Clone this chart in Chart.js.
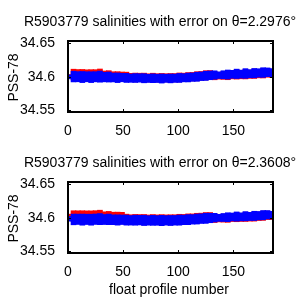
<!DOCTYPE html>
<html>
<head>
<meta charset="utf-8">
<script src="https://cdn.jsdelivr.net/npm/chart.js@4"></script>
<style>
  html, body { margin: 0; padding: 0; background: #fff; }
  .box { position: absolute; left: 0; width: 300px; height: 150px; }
</style>
</head>
<body>
<div class="box" style="top:0"><canvas id="top" width="300" height="150"></canvas></div>
<div class="box" style="top:150px"><canvas id="bottom" width="300" height="150"></canvas></div>
<script>
// profile numbers (every 4th profile)
const profiles = [1, 5, 9, 13, 17, 21, 25, 29, 33, 37, 41, 45, 49, 53, 57, 61, 65, 69, 73, 77, 81, 85, 89, 93,
  97, 101, 105, 109, 113, 117, 121, 125, 129, 133, 137, 141, 145, 149, 153, 157, 161, 165, 169, 173, 177, 181, 185];

const xTicks = [0, 50, 100, 150];
const yTicks = [34.55, 34.6, 34.65];

// theta = 2.2976
const blueTop = [34.6000, 34.6004, 34.6002, 34.5997, 34.6001, 34.5995, 34.6001, 34.6003, 34.5996, 34.5997,
  34.5990, 34.5986, 34.5989, 34.5984, 34.5980, 34.5982, 34.5983, 34.5979, 34.5977, 34.5979, 34.5977, 34.5975,
  34.5978, 34.5976, 34.5979, 34.5983, 34.5986, 34.5990, 34.5995, 34.6001, 34.6008, 34.6015, 34.6022, 34.6027,
  34.6025, 34.6031, 34.6034, 34.6038, 34.6045, 34.6041, 34.6050, 34.6047, 34.6055, 34.6058, 34.6064, 34.6068, 34.6063];
const blueTopErr = [0.0030, 0.0080, 0.0076, 0.0083, 0.0075, 0.0081, 0.0076, 0.0083, 0.0071, 0.0075,
  0.0066, 0.0072, 0.0063, 0.0068, 0.0062, 0.0066, 0.0063, 0.0068, 0.0061, 0.0066, 0.0062, 0.0068,
  0.0061, 0.0066, 0.0062, 0.0067, 0.0061, 0.0066, 0.0063, 0.0068, 0.0064, 0.0069, 0.0065, 0.0063,
  0.0050, 0.0060, 0.0068, 0.0059, 0.0070, 0.0060, 0.0072, 0.0061, 0.0070, 0.0063, 0.0072, 0.0065, 0.0060];
const redTop = [34.6004, 34.6034, 34.6033, 34.6027, 34.6030, 34.6026, 34.6031, 34.6034, 34.6016, 34.6017,
  34.6010, 34.6005, 34.6009, 34.6002, 34.5990, 34.5990, 34.5991, 34.5987, 34.5985, 34.5988, 34.5985, 34.5983,
  34.5986, 34.5984, 34.5987, 34.5991, 34.5994, 34.5998, 34.6003, 34.6009, 34.6016, 34.6023, 34.6029, 34.6019,
  34.6016, 34.6022, 34.6025, 34.6029, 34.6036, 34.6031, 34.6041, 34.6038, 34.6046, 34.6048, 34.6055, 34.6059, 34.6054];

// theta = 2.3608
const blueBot = [34.5985, 34.5976, 34.5978, 34.5973, 34.5977, 34.5972, 34.5979, 34.5981, 34.5975, 34.5977,
  34.5971, 34.5968, 34.5971, 34.5966, 34.5963, 34.5965, 34.5966, 34.5962, 34.5961, 34.5963, 34.5961, 34.5960,
  34.5962, 34.5960, 34.5963, 34.5966, 34.5969, 34.5973, 34.5977, 34.5982, 34.5988, 34.5993, 34.5998, 34.6002,
  34.6000, 34.6005, 34.6009, 34.6013, 34.6019, 34.6015, 34.6024, 34.6021, 34.6029, 34.6032, 34.6040, 34.6046, 34.6040];
const blueBotErr = [0.0035, 0.0080, 0.0077, 0.0083, 0.0077, 0.0082, 0.0078, 0.0083, 0.0075, 0.0079,
  0.0073, 0.0077, 0.0071, 0.0075, 0.0071, 0.0075, 0.0072, 0.0077, 0.0071, 0.0075, 0.0072, 0.0077,
  0.0071, 0.0075, 0.0072, 0.0076, 0.0071, 0.0075, 0.0071, 0.0075, 0.0072, 0.0076, 0.0071, 0.0065,
  0.0053, 0.0060, 0.0067, 0.0059, 0.0069, 0.0060, 0.0069, 0.0061, 0.0069, 0.0063, 0.0069, 0.0063, 0.0057];
const redBot = [34.6020, 34.6026, 34.6028, 34.6023, 34.6027, 34.6022, 34.6029, 34.6031, 34.6015, 34.6017,
  34.6011, 34.6008, 34.6011, 34.5980, 34.5975, 34.5976, 34.5977, 34.5973, 34.5972, 34.5974, 34.5972, 34.5971,
  34.5973, 34.5971, 34.5974, 34.5977, 34.5980, 34.5984, 34.5988, 34.5993, 34.5998, 34.6003, 34.6008, 34.5995,
  34.5992, 34.5996, 34.6000, 34.6004, 34.6011, 34.6006, 34.6015, 34.6012, 34.6020, 34.6023, 34.6031, 34.6037, 34.6031];

const FONT = '"Liberation Sans", Arial, sans-serif';

// box, inward ticks and the texts matlab puts around the axes
const frame = {
  id: 'frame',
  afterDraw(chart, args, opts) {
    const { ctx, chartArea: a, scales } = chart;
    ctx.save();
    ctx.strokeStyle = '#000';
    ctx.lineWidth = 1;
    ctx.beginPath();
    scales.x.ticks.forEach(t => {
      const px = Math.round(scales.x.getPixelForValue(t.value)) + 0.5;
      ctx.moveTo(px, a.bottom); ctx.lineTo(px, a.bottom - 3);
      ctx.moveTo(px, a.top); ctx.lineTo(px, a.top + 3);
    });
    scales.y.ticks.forEach(t => {
      const py = Math.round(scales.y.getPixelForValue(t.value)) + 0.5;
      ctx.moveTo(a.left, py); ctx.lineTo(a.left + 3, py);
      ctx.moveTo(a.right, py); ctx.lineTo(a.right - 3, py);
    });
    ctx.stroke();
    ctx.lineWidth = 2;
    ctx.strokeRect(a.left, a.top, a.right - a.left, a.bottom - a.top);

    ctx.fillStyle = '#000';
    ctx.textAlign = 'center';
    ctx.textBaseline = 'middle';
    ctx.font = '14px ' + FONT;
    ctx.fillText(opts.title, 160, opts.titleY);
    if (opts.xlabel) ctx.fillText(opts.xlabel, 169, opts.xlabelY);
    ctx.translate(14, (a.top + a.bottom) / 2 + 1);
    ctx.rotate(-Math.PI / 2);
    ctx.fillText('PSS-78', 0, 0);
    ctx.restore();
  }
};

function makeChart(id, title, titleY, blue, blueErr, red, xlabel, top, bottomPad) {
  const bars = (vals, errs) => profiles.map((p, i) => ({ x: p, y: [vals[i] - errs[i], vals[i] + errs[i]] }));
  return new Chart(document.getElementById(id), {
    type: 'bar',
    data: {
      datasets: [
        { label: 'calibrated', data: bars(blue, blueErr), backgroundColor: '#0000ff', order: 1,
          barThickness: 5, grouped: false },
        { label: 'original', data: bars(red, blueErr), backgroundColor: '#ff0000', order: 2,
          barThickness: 5, grouped: false }
      ]
    },
    options: {
      responsive: false,
      animation: false,
      layout: { padding: { left: 0, right: 27, top: top, bottom: 0 } },
      plugins: {
        legend: { display: false },
        tooltip: { enabled: false },
        frame: { title: title, titleY: titleY, xlabel: xlabel, xlabelY: 140 }
      },
      scales: {
        x: {
          type: 'linear', min: 0, max: 186, offset: false,
          grid: { display: false }, border: { display: false },
          ticks: { color: '#000', font: { family: FONT, size: 14 }, padding: 3, maxRotation: 0 },
          afterBuildTicks: ax => { ax.ticks = xTicks.map(v => ({ value: v })); },
          afterFit: ax => { ax.height = bottomPad; }
        },
        y: {
          min: 34.5475, max: 34.6535,
          grid: { display: false }, border: { display: false },
          ticks: { color: '#000', font: { family: FONT, size: 14 }, padding: 5,
            callback: v => String(+v.toFixed(2)) },
          afterBuildTicks: ax => { ax.ticks = yTicks.map(v => ({ value: v })); },
          afterFit: ax => { ax.width = 68; }
        }
      }
    },
    plugins: [frame]
  });
}

makeChart('top', 'R5903779 salinities with error on \u03b8=2.2976\u00b0', 22, blueTop, blueTopErr, redTop, null, 41, 38);
makeChart('bottom', 'R5903779 salinities with error on \u03b8=2.3608\u00b0', 13, blueBot, blueBotErr, redBot,
  'float profile number', 32, 47);
</script>
</body>
</html>
